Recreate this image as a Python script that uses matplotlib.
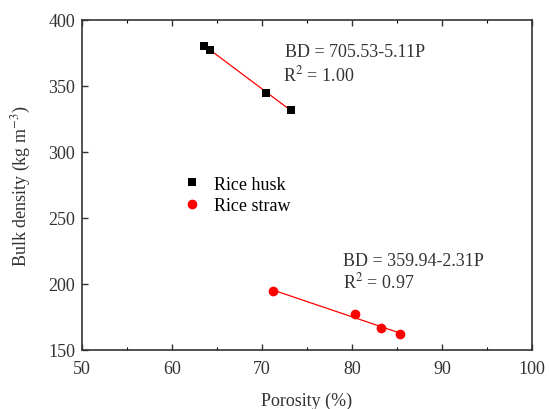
import numpy as np
import matplotlib.pyplot as plt

plt.rcParams['font.family'] = ['Liberation Serif', 'DejaVu Serif']
plt.rcParams['mathtext.fontset'] = 'stix'

husk_porosity = [63.6, 64.2, 70.4, 73.2]
husk_bd = [380, 377, 345, 332]
straw_porosity = [71.2, 80.3, 83.2, 85.3]
straw_bd = [194.5, 177, 166.5, 162]

husk_fit = (705.53, -5.11)
straw_fit = (359.94, -2.31)

fs = 13
tc = "#333"

fig = plt.figure(figsize=(5.49, 4.10), dpi=100)
ax = fig.add_axes([82 / 549, 1 - 351 / 410, 450 / 549, 330 / 410])

xh = np.array([husk_porosity[0], husk_porosity[-1]])
ax.plot(xh, husk_fit[0] + husk_fit[1] * xh, color="red", lw=0.9, zorder=2)
xs = np.array([straw_porosity[0], straw_porosity[-1]])
ax.plot(xs, straw_fit[0] + straw_fit[1] * xs, color="red", lw=0.9, zorder=2)

ax.plot(husk_porosity, husk_bd, "s", color="black", ms=6.2, mew=0,
        ls="none", label="Rice husk", zorder=3)
ax.plot(straw_porosity, straw_bd, "o", color="red", ms=7, mew=0,
        ls="none", label="Rice straw", zorder=3)

ax.text(285, 410 - 53, "BD = 705.53-5.11P", transform=None, fontsize=fs,
        va="center", color=tc)
ax.text(283, 410 - 75, "R$^2$ = 1.00", transform=None, fontsize=fs,
        va="center", color=tc)
ax.text(343, 410 - 262, "BD = 359.94-2.31P", transform=None, fontsize=fs,
        va="center", color=tc)
ax.text(343, 410 - 282, "R$^2$ = 0.97", transform=None, fontsize=fs,
        va="center", color=tc)

ax.set_xlim(50, 100)
ax.set_ylim(150, 400)
ax.set_xticks(np.arange(50, 101, 10))
ax.set_xticks(np.arange(55, 100, 10), minor=True)
ax.set_yticks(np.arange(150, 401, 50))
ax.tick_params(direction="in", labelsize=fs, colors=tc, top=True,
               length=4, width=1)
ax.tick_params(which="minor", direction="in", top=True, length=2.5, width=0.8)
ax.tick_params(axis="x", pad=7)
ax.tick_params(axis="y", pad=5)
for s in ax.spines.values():
    s.set_linewidth(1.2)
    s.set_color(tc)

ax.set_xlabel("Porosity (%)", fontsize=fs, color=tc, labelpad=11)
ax.set_ylabel("Bulk density (kg m$^{-3}$)", fontsize=fs, color=tc,
              labelpad=11)

ax.legend(loc="upper left", bbox_to_anchor=(0.2, 0.55), frameon=False,
          fontsize=fs, handletextpad=0.5, labelspacing=0.25,
          handlelength=1.4, borderaxespad=0)

fig.savefig("out.png", dpi=100)
